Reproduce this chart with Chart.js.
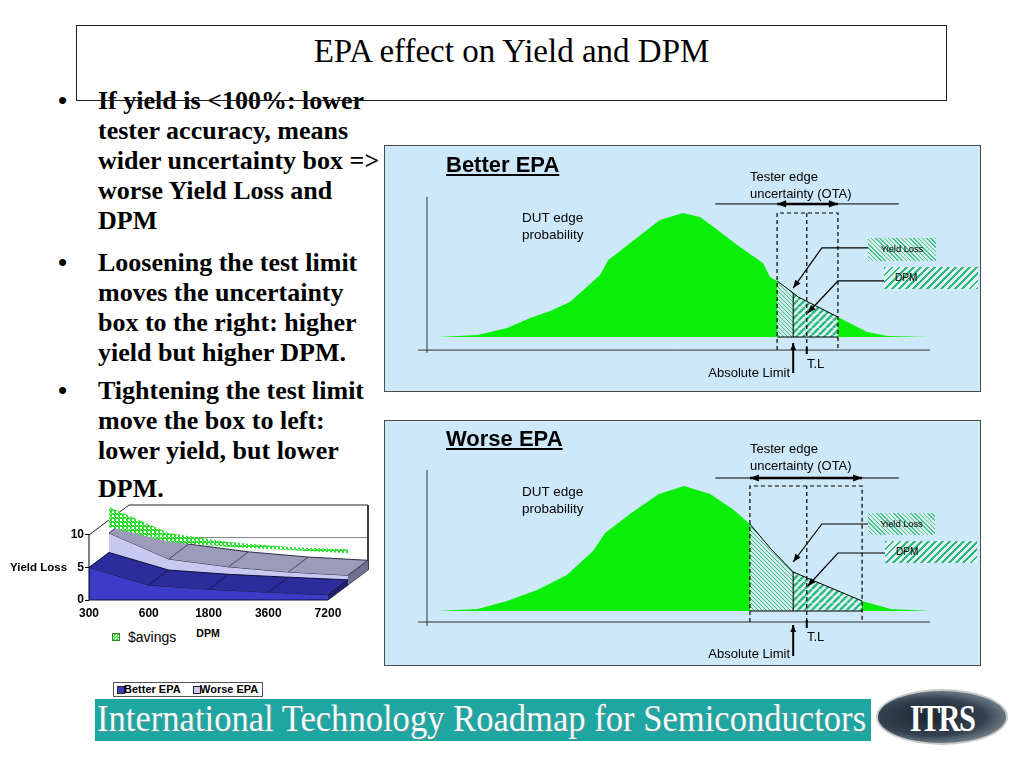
<!DOCTYPE html>
<html>
<head>
<meta charset="utf-8">
<title>EPA effect on Yield and DPM</title>
<script src="https://cdn.jsdelivr.net/npm/chart.js@4.4.1/dist/chart.umd.min.js"></script>
<style>
  html, body { margin: 0; padding: 0; }
  body { width: 1024px; height: 768px; position: relative; overflow: hidden; background: #fff;
         font-family: "Liberation Sans", Arial, sans-serif; color: #000; }
  .abs { position: absolute; white-space: nowrap; }
  #titleBox { position: absolute; left: 76px; top: 25px; width: 871px; height: 76px; box-sizing: border-box; border: 1px solid #222; }
  #title { left: 76px; top: 35px; width: 871px; text-align: center; font: 33px/1 "Liberation Serif", "Times New Roman", serif; }
  .bul { position: absolute; left: 98px; font: bold 26px/30px "Liberation Serif", "Times New Roman", serif; white-space: nowrap; }
  .bul .dot { position: absolute; left: -40px; top: 0; }
  .panel { position: absolute; left: 384px; width: 597px; box-sizing: border-box; background: #cde8f9; border: 1px solid #4a4a4a; }
  .panel .cv { position: absolute; left: 0; top: 0; right: 0; bottom: 0; }
  .head { left: 446px; font: bold 22px/1 "Liberation Sans", Arial, sans-serif; text-decoration: underline; text-underline-offset: 2px; }
  .lbl { font: 13px/17px "Liberation Sans", Arial, sans-serif; }
  .dut { font-size: 13.5px; }
  .yl { position: absolute; text-align: center; font: 9.3px "Liberation Sans", Arial, sans-serif;
        background: repeating-linear-gradient(45deg, #4dbf97 0 1px, #d4eee8 1px 3px); }
  .dpm { position: absolute; box-sizing: border-box; padding-left: 11px; font: 10px "Liberation Sans", Arial, sans-serif;
         background: repeating-linear-gradient(135deg, #2fb987 0 2px, #e2f4ef 2px 5px); }
  #mini { position: absolute; left: 0; top: 495px; width: 380px; height: 130px; }
  .legend { position: absolute; left: 113px; top: 682px; width: 150px; height: 15px; box-sizing: border-box;
            border: 1px solid #555; background: #fff; font: bold 11px/13px "Liberation Sans", Arial, sans-serif; }
  .sw { position: absolute; top: 3px; width: 6px; height: 6px; border: 1px solid #222; }
  #banner { position: absolute; left: 95px; top: 699px; width: 776px; height: 42px; background: #1ea6a2; overflow: hidden; }
  #bannerText { position: absolute; left: 2px; top: 0px; color: #f4fbfb; white-space: nowrap; transform-origin: 0 0;
                font: 38px/1 "Liberation Serif", "Times New Roman", serif; text-shadow: 1px 1px 0 #5a8f8c; }
  #logo { position: absolute; left: 876px; top: 689px; width: 132px; height: 56px; box-sizing: border-box; border-radius: 50%;
          border: 2px solid #c8c8c8;
          background: radial-gradient(ellipse at 42% 50%, #1d2530 0%, #33404e 50%, #6d7b86 72%, #e9eef0 88%, #fff 100%); }
  #logo span { position: absolute; left: 0; right: 0; top: 8px; text-align: center; color: #fff;
               font: bold 38px/1 "Liberation Serif", "Times New Roman", serif; letter-spacing: -2px; transform: scaleX(0.8); }
</style>
</head>
<body>

<div class="bul" style="top:86px"><span class="dot">•</span>If yield is &lt;100%: lower<br>tester accuracy, means<br>wider uncertainty box =&gt;<br>worse Yield Loss and<br>DPM</div>
<div class="bul" style="top:248px"><span class="dot">•</span>Loosening the test limit<br>moves the uncertainty<br>box to the right: higher<br>yield but higher DPM.</div>
<div class="bul" style="top:376px"><span class="dot">•</span>Tightening the test limit<br>move the box to left:<br>lower yield, but lower<br><span style="display:block;margin-top:8px">DPM.</span></div>

<div id="titleBox"></div>
<div id="title" class="abs">EPA effect on Yield and DPM</div>

<div class="panel" style="top:145px;height:247px"><div class="cv"><canvas id="better"></canvas></div></div>
<div class="panel" style="top:420px;height:246px"><div class="cv"><canvas id="worse"></canvas></div></div>

<div class="abs head" style="top:154px">Better EPA</div>
<div class="abs lbl" style="left:750px;top:168px">Tester edge<br>uncertainty (OTA)</div>
<div class="abs lbl dut" style="left:522px;top:209px">DUT edge<br>probability</div>
<div class="abs lbl" style="left:650px;width:140px;text-align:right;top:364px">Absolute Limit</div>
<div class="abs lbl" style="left:807px;top:355px">T.L</div>
<div class="yl" style="left:868px;top:238px;width:68px;height:23px;line-height:23px">Yield Loss</div>
<div class="dpm" style="left:884px;top:267px;width:94px;height:22px;line-height:22px">DPM</div>

<div class="abs head" style="top:428px">Worse EPA</div>
<div class="abs lbl" style="left:750px;top:440px">Tester edge<br>uncertainty (OTA)</div>
<div class="abs lbl dut" style="left:522px;top:483px">DUT edge<br>probability</div>
<div class="abs lbl" style="left:650px;width:140px;text-align:right;top:645px">Absolute Limit</div>
<div class="abs lbl" style="left:807px;top:628px">T.L</div>
<div class="yl" style="left:868px;top:513px;width:67px;height:22px;line-height:22px">Yield Loss</div>
<div class="dpm" style="left:885px;top:541px;width:92px;height:22px;line-height:22px">DPM</div>

<div id="mini"><canvas id="yieldChart"></canvas></div>
<div class="abs" style="left:10px;top:562px;font:bold 11.5px/1 'Liberation Sans',Arial,sans-serif">Yield Loss</div>
<div class="abs" style="left:190px;top:628px;width:36px;text-align:center;font:bold 10.5px/1 'Liberation Sans',Arial,sans-serif">DPM</div>
<div class="abs" style="left:112px;top:633px;width:6px;height:6px;border:1px solid #2a8a2a;background:repeating-conic-gradient(#2ee02e 0 25%, #fff 0 50%) 0 0/3px 3px"></div>
<div class="abs" style="left:128px;top:630px;font:14px/1 'Liberation Sans',Arial,sans-serif">$avings</div>

<div class="legend">
  <span class="sw" style="left:3px;background:#3c3cc8"></span><span class="abs" style="left:10px;top:0">Better EPA</span>
  <span class="sw" style="left:79px;background:#c8c8f0"></span><span class="abs" style="left:86px;top:0">Worse EPA</span>
</div>

<div id="banner"><div id="bannerText">International Technology Roadmap for Semiconductors</div></div>
<div id="logo"><span>ITRS</span></div>

<script>
// DUT edge probability (edge position 0..100, peak = 1)
const betterPos  = [2.2, 10.1, 15.9, 20.5, 24.5, 28.4, 34.4, 36.0, 40.4, 46.3, 50.9, 54.3, 58.3, 62.2, 66.8, 68.2, 69.6, 72.8, 73.8, 81.7, 87.5, 91.5, 100];
const betterProb = [0, 0.016, 0.073, 0.153, 0.21, 0.282, 0.5, 0.62, 0.758, 0.944, 1.0, 0.968, 0.847, 0.726, 0.597, 0.484, 0.452, 0.355, 0.323, 0.161, 0.04, 0.008, 0];
const worsePos   = [2.2, 10.1, 15.9, 21.9, 27.8, 33.0, 35.4, 40.6, 46.1, 51.1, 56.3, 61.0, 64.2, 68.2, 72.8, 74.2, 86.5, 92.2, 100];
const worseProb  = [0, 0.016, 0.08, 0.168, 0.288, 0.48, 0.624, 0.784, 0.936, 1.0, 0.936, 0.808, 0.696, 0.504, 0.312, 0.288, 0.08, 0.016, 0];

// uncertainty boxes and limits
const betterBox = [69.6, 81.7];
const worseBox  = [64.2, 86.5];
const absLimit  = 72.8;
const testLimit = 75.5;
const otaSpan   = [57.3, 93.8];

// small 3D chart: yield loss vs DPM
const dpmCats     = ['300', '600', '1800', '3600', '7200'];
const betterEPA   = [5.0, 2.3, 1.65, 1.2, 0.8];
const worseEPA    = [8.0, 4.0, 2.8, 2.0, 1.5];
const savingsLow  = [8.9, 6.6, 5.85, 5.4, 4.9];
const savingsHigh = [12.0, 8.0, 6.6, 5.85, 5.5];
const yieldTicks  = [0, 5, 10];

function hatch(bg, fg, size, width, dir) {
  const c = document.createElement('canvas');
  c.width = c.height = size;
  const g = c.getContext('2d');
  g.fillStyle = bg;
  g.fillRect(0, 0, size, size);
  g.strokeStyle = fg;
  g.lineWidth = width;
  g.beginPath();
  for (const k of [-1, 0, 1]) {
    if (dir === '/') { g.moveTo(k * size, size); g.lineTo(k * size + size, 0); }
    else { g.moveTo(k * size, 0); g.lineTo(k * size + size, size); }
  }
  g.stroke();
  return g.createPattern(c, 'repeat');
}

function checker(a, b) {
  const c = document.createElement('canvas');
  c.width = c.height = 4;
  const g = c.getContext('2d');
  g.fillStyle = a; g.fillRect(0, 0, 4, 4);
  g.fillStyle = b; g.fillRect(0, 0, 2, 2);
  g.fillRect(2, 2, 1, 1);
  return g.createPattern(c, 'repeat');
}

const arrowHeads = {
  id: 'arrowHeads',
  afterDatasetsDraw(chart) {
    const ctx = chart.ctx;
    chart.data.datasets.forEach((ds, i) => {
      if (!ds.arrowStart && !ds.arrowEnd) return;
      const pts = chart.getDatasetMeta(i).data;
      const len = ds.arrowSize || 8, w = len * 0.4;
      const head = (from, tip) => {
        const a = Math.atan2(tip.y - from.y, tip.x - from.x);
        const bx = tip.x - len * Math.cos(a), by = tip.y - len * Math.sin(a);
        ctx.beginPath();
        ctx.moveTo(tip.x, tip.y);
        ctx.lineTo(bx + w * Math.sin(a), by - w * Math.cos(a));
        ctx.lineTo(bx - w * Math.sin(a), by + w * Math.cos(a));
        ctx.closePath();
        ctx.fill();
      };
      ctx.save();
      ctx.fillStyle = ds.borderColor;
      if (ds.arrowEnd) head(pts[pts.length - 2], pts[pts.length - 1]);
      if (ds.arrowStart) head(pts[1], pts[0]);
      ctx.restore();
    });
  }
};

const green = '#0aef0a';
const ylHatch = hatch('#d2ede7', '#45b990', 4, 1, '\\');
const dpmHatch = hatch('#e0f3ee', '#2fb987', 7, 2.5, '/');

const pt = (x, y) => ({x, y});

function drawPanel(id, pos, prob, box, f) {
  const curve = pos.map((p, i) => pt(p, prob[i]));
  const part = (lo, hi) => curve.filter(c => c.x >= lo && c.x <= hi);
  const peak = Math.max(...prob);
  const atAbs = prob[pos.indexOf(absLimit)];
  const line = (data, extra) => Object.assign({data, borderColor: '#000', borderWidth: 1, fill: false}, extra);

  const datasets = [
    line([pt(otaSpan[0], f.ota), pt(otaSpan[1], f.ota)], {order: 1}),
    line([pt(box[0], f.ota), pt(box[1], f.ota)], {borderWidth: 2.5, arrowStart: true, arrowEnd: true, arrowSize: 9, order: 1}),
    line(f.ylLeader.map(p => pt(p[0], p[1])), {borderWidth: 1.2, arrowEnd: true, order: 1}),
    line(f.dpmLeader.map(p => pt(p[0], p[1])), {borderWidth: 1.2, arrowEnd: true, order: 1}),
    line([pt(absLimit, f.abs[0]), pt(absLimit, f.abs[1])], {borderWidth: 2, arrowEnd: true, arrowSize: 7, order: 1}),
    line([pt(testLimit, f.tick[0]), pt(testLimit, f.tick[1])], {borderWidth: 2, order: 1}),
    line([pt(box[0], f.axis), pt(box[0], peak), pt(box[1], peak), pt(box[1], f.axis)], {borderDash: [4, 3], borderWidth: 1.2, order: 2}),
    line([pt(testLimit, f.axis), pt(testLimit, peak)], {borderDash: [4, 3], borderWidth: 1.2, order: 2}),
    line([pt(-1.8, f.axis), pt(100, f.axis)], {borderColor: '#333', order: 2}),
    line([pt(0, f.yAxis[0]), pt(0, f.yAxis[1])], {borderColor: '#333', order: 2}),
    line([pt(box[0], 0), pt(box[1], 0)], {order: 3}),
    line([pt(absLimit, 0), pt(absLimit, atAbs)], {order: 3}),
    {data: part(absLimit, box[1]), fill: {value: 0}, backgroundColor: dpmHatch, borderColor: '#000', borderWidth: 1, order: 4},
    {data: part(box[0], absLimit), fill: {value: 0}, backgroundColor: ylHatch, borderColor: '#000', borderWidth: 1, order: 4},
    {data: curve, fill: {value: 0}, backgroundColor: green, borderColor: 'transparent', borderWidth: 0, order: 5}
  ];

  new Chart(document.getElementById(id), {
    type: 'line',
    data: {datasets},
    options: {
      responsive: true,
      maintainAspectRatio: false,
      animation: false,
      events: [],
      layout: {padding: 0},
      datasets: {line: {pointRadius: 0, tension: 0, clip: false}},
      plugins: {legend: {display: false}, tooltip: {enabled: false}},
      scales: {
        x: {type: 'linear', display: false, min: f.range.x[0], max: f.range.x[1]},
        y: {type: 'linear', display: false, min: f.range.y[0], max: f.range.y[1]}
      }
    },
    plugins: [arrowHeads]
  });
}

drawPanel('better', betterPos, betterProb, betterBox, {
  range: {x: [-8.35, 109.94], y: [-0.435, 1.54]},
  axis: -0.105, yAxis: [-0.129, 1.129], ota: 1.073, tick: [-0.08, -0.137], abs: [-0.29, -0.048],
  ylLeader: [[87.7, 0.718], [78.5, 0.718], [72.8, 0.395]],
  dpmLeader: [[90.9, 0.452], [81.7, 0.452], [75.7, 0.194]]
});

drawPanel('worse', worsePos, worseProb, worseBox, {
  range: {x: [-8.35, 109.94], y: [-0.432, 1.52]},
  axis: -0.088, yAxis: [-0.12, 1.128], ota: 1.064, tick: [-0.072, -0.136], abs: [-0.36, -0.112],
  ylLeader: [[87.7, 0.696], [78.5, 0.696], [72.8, 0.392]],
  dpmLeader: [[91.1, 0.464], [81.7, 0.464], [75.7, 0.2]]
});

// ---- 3D area chart, faked with depth-shifted lines on the same scales ----
const DX = 0.335, DY = 2.3;
const proj = (i, v, d) => ({x: i + d * DX, y: v + d * DY});
const mini = [];
const edge = (data, color, width) => mini.push({data, borderColor: color, borderWidth: width});

function slab(vals, d, c) {
  const n = vals.length - 1;
  const front = vals.map((v, i) => proj(i, v, d));
  const back = vals.map((v, i) => proj(i, v, d + 1));
  const base = mini.length;
  mini.push({data: front, fill: {value: d * DY}, backgroundColor: c.front, borderColor: c.edge, borderWidth: 1});
  mini.push({data: [...front, back[n]], borderWidth: 0});
  mini.push({data: [front[0], ...back], fill: base + 1, backgroundColor: c.top, borderColor: c.edge, borderWidth: 1});
  mini.push({data: [proj(n, 0, d), proj(n, 0, d + 1)], borderColor: c.edge, borderWidth: 1});
  mini.push({data: [front[n], back[n]], fill: base + 3, backgroundColor: c.end, borderColor: c.edge, borderWidth: 1});
  const grid = [];
  for (let i = 1; i < n; i++) grid.push(front[i], back[i], {x: back[i].x + 0.01, y: null});
  mini.push({data: grid, borderColor: c.edge, borderWidth: 0.8});
  edge([proj(0, 0, d), proj(n, 0, d)], c.edge, 1);
}

edge([proj(0, 5, 0), proj(0, 5, 2), proj(4, 5, 2)], '#666', 0.8);
edge([proj(0, 10, 0), proj(0, 10, 2), proj(4, 10, 2), proj(4, 0, 2)], '#222', 1);
slab(worseEPA, 1, {front: '#c8c8f0', top: '#9c9cba', end: '#70708e', edge: '#2e2e4a'});
const ribbon = mini.length;
mini.push({data: savingsLow.map((v, i) => proj(i, v, 1)), borderWidth: 0});
mini.push({data: savingsHigh.map((v, i) => proj(i, v, 1)), fill: ribbon, backgroundColor: checker('#2ee02e', '#ffffff'), borderWidth: 0});
slab(betterEPA, 0, {front: '#3c3cc8', top: '#2c2c9c', end: '#20206e', edge: '#10103a'});
edge([proj(0, 0, 0), proj(0, 10, 0)], '#000', 1);
mini.forEach((ds, i) => { ds.order = mini.length - i; });

new Chart(document.getElementById('yieldChart'), {
  type: 'line',
  data: {datasets: mini},
  options: {
    responsive: true,
    maintainAspectRatio: false,
    animation: false,
    events: [],
    layout: {padding: {left: 67, right: 12, top: 10, bottom: 0}},
    datasets: {line: {pointRadius: 0, tension: 0, clip: 8}},
    plugins: {legend: {display: false}, tooltip: {enabled: false}},
    scales: {
      x: {
        type: 'linear', min: 0, max: dpmCats.length - 1 + 2 * DX,
        afterBuildTicks: s => { s.ticks = dpmCats.map((c, i) => ({value: i})); },
        ticks: {callback: v => dpmCats[v], color: '#000', font: {family: 'Liberation Sans', weight: 'bold', size: 12}, padding: 6, maxRotation: 0, autoSkip: false},
        grid: {display: false, drawTicks: false},
        border: {display: false},
        afterFit: s => { s.height = 25; }
      },
      y: {
        type: 'linear', min: 0, max: 10 + 2 * DY,
        afterBuildTicks: s => { s.ticks = yieldTicks.map(v => ({value: v})); },
        ticks: {color: '#000', font: {family: 'Liberation Sans', weight: 'bold', size: 12}, padding: 1},
        grid: {drawOnChartArea: false, tickLength: 4, color: '#000'},
        border: {display: false},
        afterFit: s => { s.width = 22; }
      }
    }
  }
});

// stretch the banner lettering over the teal bar
const bt = document.getElementById('bannerText');
bt.style.transform = 'scaleX(' + (769 / bt.scrollWidth) + ')';
</script>
</body>
</html>
